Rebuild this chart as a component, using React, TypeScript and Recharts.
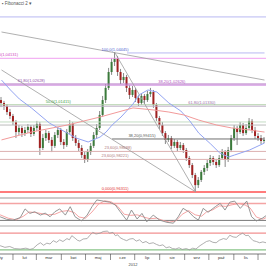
import React from 'react';
import { ComposedChart, Bar, Line, XAxis, YAxis, ReferenceLine, ReferenceDot } from 'recharts';

const FONT = '"Liberation Sans", Arial, sans-serif';

// ---------- candles (one per ~3.7 days) ----------
const candleOpen = [
  1.0169, 1.0152, 1.0134, 1.0099, 1.0076, 1.0041, 0.9982, 1.0006, 0.9976, 0.9994,
  1.0012, 0.9971, 1.0006, 1.0029, 0.9889, 0.9947, 0.9976, 0.9936, 0.9901, 0.9965,
  0.9994, 0.9924, 0.9906, 0.9982, 1.0029, 0.9947, 0.9918, 0.9889, 0.9848, 0.9819,
  0.9865, 0.9901, 0.9965, 1.0006, 1.0082, 1.0169, 1.0240, 1.0333, 1.0392, 1.0415,
  1.0333, 1.0286, 1.0304, 1.0240, 1.0199, 1.0228, 1.0181, 1.0152, 1.0193, 1.0169,
  1.0204, 1.0216, 1.0140, 1.0064, 1.0023, 0.9976, 0.9936, 0.9947, 0.9901, 0.9924,
  0.9889, 0.9906, 0.9877, 0.9830, 0.9789, 0.9731, 0.9672, 0.9702, 0.9749, 0.9772,
  0.9801, 0.9830, 0.9807, 0.9789, 0.9830, 0.9865, 0.9819, 0.9877, 0.9947, 1.0006,
  0.9982, 1.0023, 0.9976, 1.0006, 1.0047, 0.9994, 0.9959, 0.9947, 0.9930,
];
const candleHigh = [
  1.0187, 1.0164, 1.0146, 1.0117, 1.0088, 1.0052, 1.0023, 1.0018, 1.0012, 1.0029,
  1.0023, 1.0023, 1.0047, 1.0041, 0.9971, 0.9994, 0.9988, 0.9953, 0.9982, 1.0012,
  1.0006, 0.9941, 1.0000, 1.0052, 1.0041, 0.9965, 0.9936, 0.9906, 0.9865, 0.9883,
  0.9918, 0.9982, 1.0029, 1.0105, 1.0193, 1.0263, 1.0357, 1.0415, 1.0450, 1.0427,
  1.0351, 1.0327, 1.0316, 1.0257, 1.0251, 1.0240, 1.0199, 1.0210, 1.0204, 1.0222,
  1.0240, 1.0228, 1.0152, 1.0076, 1.0041, 0.9988, 0.9965, 0.9959, 0.9941, 0.9936,
  0.9924, 0.9918, 0.9889, 0.9842, 0.9801, 0.9743, 0.9719, 0.9760, 0.9789, 0.9819,
  0.9848, 0.9842, 0.9825, 0.9848, 0.9883, 0.9877, 0.9895, 0.9965, 1.0023, 1.0018,
  1.0041, 1.0035, 1.0029, 1.0064, 1.0058, 1.0012, 0.9976, 0.9965, 0.9953,
];
const candleLow = [
  1.0128, 1.0111, 1.0082, 1.0058, 1.0023, 0.9947, 0.9965, 0.9953, 0.9959, 0.9976,
  0.9953, 0.9959, 0.9988, 0.9848, 0.9877, 0.9930, 0.9918, 0.9865, 0.9889, 0.9947,
  0.9906, 0.9883, 0.9895, 0.9971, 0.9930, 0.9901, 0.9871, 0.9830, 0.9801, 0.9807,
  0.9848, 0.9889, 0.9947, 0.9994, 1.0070, 1.0152, 1.0228, 1.0316, 1.0368, 1.0310,
  1.0263, 1.0269, 1.0216, 1.0175, 1.0187, 1.0158, 1.0134, 1.0140, 1.0146, 1.0158,
  1.0187, 1.0123, 1.0047, 1.0000, 0.9959, 0.9912, 0.9924, 0.9883, 0.9889, 0.9871,
  0.9877, 0.9860, 0.9813, 0.9772, 0.9713, 0.9637, 0.9655, 0.9690, 0.9731, 0.9754,
  0.9784, 0.9789, 0.9772, 0.9778, 0.9819, 0.9778, 0.9807, 0.9865, 0.9930, 0.9906,
  0.9971, 0.9959, 0.9965, 0.9994, 0.9976, 0.9941, 0.9930, 0.9912, 0.9918,
];
const candleClose = [
  1.0152, 1.0134, 1.0099, 1.0076, 1.0041, 0.9982, 1.0006, 0.9976, 0.9994, 1.0012,
  0.9971, 1.0006, 1.0029, 0.9889, 0.9947, 0.9976, 0.9936, 0.9901, 0.9965, 0.9994,
  0.9924, 0.9906, 0.9982, 1.0029, 0.9947, 0.9918, 0.9889, 0.9848, 0.9819, 0.9865,
  0.9901, 0.9965, 1.0006, 1.0082, 1.0169, 1.0240, 1.0333, 1.0392, 1.0415, 1.0333,
  1.0286, 1.0304, 1.0240, 1.0199, 1.0228, 1.0181, 1.0152, 1.0193, 1.0169, 1.0204,
  1.0216, 1.0140, 1.0064, 1.0023, 0.9976, 0.9936, 0.9947, 0.9901, 0.9924, 0.9889,
  0.9906, 0.9877, 0.9830, 0.9789, 0.9731, 0.9672, 0.9702, 0.9749, 0.9772, 0.9801,
  0.9830, 0.9807, 0.9789, 0.9830, 0.9865, 0.9819, 0.9877, 0.9947, 1.0006, 0.9982,
  1.0023, 0.9976, 1.0006, 1.0047, 0.9994, 0.9959, 0.9947, 0.9930, 0.9936,
];

// moving averages: [candle index, price]
const blueMA = [
  [0, 1.0286], [3, 1.0228], [6, 1.0175], [10, 1.0123], [16, 1.0035], [22, 0.9976],
  [25, 0.9947], [29, 0.9924], [33, 0.9953], [35, 0.9982], [37, 1.0023], [40, 1.0070],
  [44, 1.0146], [46, 1.0199], [49, 1.0228], [52, 1.0216], [56, 1.0152], [60, 1.0105],
  [63, 1.0047], [66, 0.9976], [70, 0.9912], [73, 0.9860], [76, 0.9836], [78, 0.9848],
  [83, 0.9877], [88, 0.9918],
];
const redMA = [
  [0, 0.9936], [10, 0.9982], [22, 1.0023], [33, 1.0070], [44, 1.0123], [51, 1.0111],
  [56, 1.0099], [61, 1.0082], [66, 1.0052], [72, 1.0023], [77, 1.0006], [83, 0.9994],
  [88, 0.9982],
];

// Fibonacci levels
const levelTop = 1.0655;
const levelPeak = 1.04445;
const levelUpper = 1.04131;
const level6180a = 1.02628;
const level3820a = 1.0256;
const level50 = 1.01415;
const level6180b = 1.0133;
const levelG1 = 1.0041;
const levelG2 = 1.0023;
const level3820b = 0.99415;
const level2360a = 0.98688;
const level2360b = 0.98221;
const levelZero = 0.96311;

// fib labels: [candle index, price, text]
const fibLabels: [number, number, string][] = [
  [38, 1.0462, '100,0(1,04445)'],
  [1, 1.0432, '100,0(1,04131)'],
  [10, 1.0281, '61,80(1,02628)'],
  [57, 1.0275, '38,20(1,02626)'],
  [19, 1.0158, '50,0(1,01415)'],
  [67, 1.0152, '61,80(1,01330)'],
  [47, 0.9959, '38,20(0,99415)'],
  [39, 0.9889, '23,60(0,98688)'],
  [38, 0.9842, '23,60(0,98221)'],
  [38, 0.9649, '0,000(0,96311)'],
];
const fibLabelColors = ['#5060d0', '#d040c0', '#9050a8', '#b050c0', '#40a040', '#9a70a8', '#555555', '#b07878', '#b07878', '#e03030'];

// trend lines: endpoints [candle index, price]
const trend1 = [[0, 1.0567], [88, 1.0286]];
const trend2 = [[0, 1.0345], [65, 0.9632]];
const trend3 = [[38, 1.04445], [65, 0.9632]];

// ---------- indicators (x = day of 2012) ----------
const DAY_START = 15.9;
const DAY_END = 345.9;

const stochK = [
  [16, 33], [24, 24], [32, 21], [41, 30], [47, 61], [53, 45], [59, 51], [66, 39], [72, 46], [78, 33],
  [84, 51], [90, 61], [97, 39], [103, 69], [109, 33], [117, 18], [124, 39], [130, 69], [136, 93], [144, 89],
  [152, 85], [159, 75], [165, 51], [173, 21], [179, 57], [186, 25], [192, 45], [198, 15], [206, 39], [214, 21],
  [223, 13], [231, 10], [237, 33], [243, 63], [250, 51], [256, 33], [262, 21], [268, 63], [274, 49], [283, 69],
  [289, 81], [295, 57], [301, 85], [307, 89], [314, 63], [322, 89], [328, 33], [334, 18], [341, 27], [346, 37],
];
const stochD = [
  [16, 40], [26, 28], [36, 22], [45, 35], [52, 50], [60, 48], [68, 44], [76, 40], [84, 42], [92, 52],
  [100, 55], [108, 48], [114, 32], [122, 28], [130, 50], [138, 78], [146, 90], [154, 86], [162, 70], [170, 42],
  [178, 38], [186, 40], [194, 32], [202, 26], [210, 28], [218, 20], [226, 14], [234, 18], [242, 42], [250, 55],
  [258, 40], [266, 35], [272, 50], [280, 58], [288, 72], [296, 70], [304, 76], [312, 80], [320, 75], [326, 65],
  [334, 32], [342, 24], [346, 30],
];
const rsi = [
  [16, 40], [22, 36], [28, 38], [34, 33], [41, 32], [48, 34], [53, 31], [57, 33], [62, 42], [66, 47],
  [70, 41], [74, 46], [78, 44], [82, 52], [86, 48], [90, 54], [94, 50], [99, 57], [102, 54], [105, 64],
  [109, 58], [112, 53], [115, 51], [119, 56], [124, 57], [127, 64], [131, 72], [135, 68], [140, 70], [144, 74],
  [149, 75], [152, 70], [156, 72], [159, 64], [162, 66], [165, 59], [169, 55], [173, 52], [177, 56], [181, 57],
  [185, 51], [189, 54], [193, 47], [197, 50], [201, 45], [206, 47], [210, 43], [214, 40], [218, 42], [222, 35],
  [226, 37], [230, 33], [234, 32], [238, 35], [242, 31], [247, 33], [251, 30], [255, 34], [259, 32], [264, 40],
  [268, 45], [272, 50], [276, 52], [280, 48], [284, 47], [288, 53], [293, 57], [297, 55], [301, 65], [305, 61],
  [309, 60], [313, 66], [317, 70], [321, 64], [324, 65], [327, 58], [330, 52], [334, 50], [338, 47], [342, 49],
  [346, 47],
];

const monthStarts = [32, 61, 92, 122, 153, 183, 214, 245, 275, 306, 336];
const monthMids = [16, 46.5, 76.5, 107, 137.5, 168, 198.5, 229.5, 260, 290.5, 321];
const monthLabels = ['sty', 'lut', 'mar', 'kwi', 'maj', 'cze', 'lip', 'sie', 'wrz', 'paź', 'lis'];

// ---------- tables ----------
const rows: any[] = candleOpen.map((o, i) => ({
  i,
  o,
  h: candleHigh[i],
  l: candleLow[i],
  c: candleClose[i],
}));
blueMA.forEach(([i, v]) => { rows[i].blue = v; });
redMA.forEach(([i, v]) => { rows[i].red = v; });

function mergeByDay(series: Record<string, number[][]>) {
  const m = new Map<number, any>();
  Object.entries(series).forEach(([key, pts]) => {
    pts.forEach(([d, v]) => {
      if (!m.has(d)) m.set(d, { d });
      m.get(d)[key] = v;
    });
  });
  return Array.from(m.values()).sort((a, b) => a.d - b.d);
}
const stochRows = mergeByDay({ sk: stochK, sd: stochD });
const rsiRows = mergeByDay({ r: rsi });

// ---------- shapes ----------
const Candle = (props: any) => {
  const { x, y, width, height, payload } = props;
  if (x == null || y == null || !payload) return null;
  const top = Math.min(y, y + height);
  const hh = Math.abs(height);
  const { o, h, l, c } = payload;
  const range = h - l || 1e-9;
  const cx = x + width / 2;
  const yO = top + ((h - o) / range) * hh;
  const yC = top + ((h - c) / range) * hh;
  const up = c >= o;
  const bt = Math.min(yO, yC);
  const bh = Math.max(Math.abs(yC - yO), 1);
  return (
    <g>
      <line x1={cx} x2={cx} y1={top} y2={top + hh} stroke="#6a6a6a" strokeWidth={0.8} />
      <rect x={cx - 1} y={bt} width={2} height={bh} fill={up ? '#3b7a3b' : '#a02020'} />
    </g>
  );
};

const MonthTick = (p: any) => {
  const v = p.payload?.value;
  if (monthStarts.indexOf(v) >= 0) {
    return <line x1={p.x} x2={p.x} y1={p.y} y2={p.y + 6} stroke="#444" strokeWidth={0.6} />;
  }
  const idx = monthMids.indexOf(v);
  if (idx < 0) return null;
  return (
    <text x={p.x} y={p.y + 5} textAnchor="middle" fontSize={4.2} fill="#333" fontFamily={FONT}>
      {monthLabels[idx]}
    </text>
  );
};

export default function App() {
  return (
    <div style={{ position: 'absolute', left: 0, top: 0, width: 266, height: 266, background: '#fff', overflow: 'hidden', fontFamily: FONT }}>
      <div style={{ position: 'absolute', left: 0, top: 0 }}>
        <ComposedChart width={266} height={195} data={rows} margin={{ top: 0, right: 0, bottom: 0, left: 0 }} barCategoryGap={0}>
          <XAxis dataKey="i" type="category" hide />
          <YAxis hide type="number" domain={[0.9614, 1.0754]} allowDataOverflow />
          <ReferenceLine y={levelTop} stroke="#b8b8f2" strokeWidth={1} />
          <ReferenceLine segment={[{ x: 42, y: levelPeak }, { x: 88, y: levelPeak }]} stroke="#b8b8f2" strokeWidth={1} />
          <ReferenceLine y={levelUpper} stroke="#f0a0f0" strokeWidth={1} />
          <ReferenceLine y={level6180a} stroke="#b070c0" strokeWidth={1} />
          <ReferenceLine y={level3820a} stroke="#d090e0" strokeWidth={1} />
          <ReferenceLine y={level50} stroke="#b0d0a8" strokeWidth={1} />
          <ReferenceLine y={level6180b} stroke="#c0b0c8" strokeWidth={1} />
          <ReferenceLine y={levelG1} stroke="#c4dcc4" strokeWidth={1} />
          <ReferenceLine y={levelG2} stroke="#bcbcbc" strokeWidth={1} />
          <ReferenceLine segment={[{ x: 37, y: level3820b }, { x: 88, y: level3820b }]} stroke="#707070" strokeWidth={1} />
          <ReferenceLine y={level2360a} stroke="#dcb0b0" strokeWidth={1} />
          <ReferenceLine y={level2360b} stroke="#dcb0b0" strokeWidth={1} />
          <ReferenceLine y={levelZero} stroke="#ff5050" strokeWidth={1.5} />
          <ReferenceLine segment={[{ x: trend1[0][0], y: trend1[0][1] }, { x: trend1[1][0], y: trend1[1][1] }]} stroke="#9c9c9c" strokeWidth={0.8} />
          <ReferenceLine segment={[{ x: trend2[0][0], y: trend2[0][1] }, { x: trend2[1][0], y: trend2[1][1] }]} stroke="#9c9c9c" strokeWidth={0.8} />
          <ReferenceLine segment={[{ x: trend3[0][0], y: trend3[0][1] }, { x: trend3[1][0], y: trend3[1][1] }]} stroke="#9c9c9c" strokeWidth={0.8} />
          <Bar dataKey={(d: any) => [d.l, d.h]} shape={(p: any) => <Candle {...p} />} activeBar={false} barSize={2} isAnimationActive={false} />
          <Line dataKey="blue" stroke="#93a4f2" strokeWidth={1} dot={false} activeDot={false} connectNulls isAnimationActive={false} />
          <Line dataKey="red" stroke="#f29a9a" strokeWidth={1} dot={false} activeDot={false} connectNulls isAnimationActive={false} />
          {fibLabels.map(([i, p, t], k) => (
            <ReferenceDot
              key={t + k}
              x={i}
              y={p}
              r={0}
              fill="none"
              stroke="none"
              label={{ value: t, position: 'center', fill: fibLabelColors[k], fontSize: 4, fontFamily: FONT }}
            />
          ))}
        </ComposedChart>
      </div>

      <div style={{ position: 'absolute', left: 0, top: 196 }}>
        <ComposedChart width={266} height={32} data={stochRows} margin={{ top: 2, right: 0, bottom: 2, left: 0 }}>
          <XAxis dataKey="d" type="number" domain={[DAY_START, DAY_END]} hide allowDataOverflow />
          <YAxis hide type="number" domain={[0, 100]} />
          <ReferenceLine y={100} stroke="#9a9a9a" strokeWidth={1.2} />
          <ReferenceLine y={80} stroke="#f4a4a4" strokeWidth={1.5} />
          <ReferenceLine y={20} stroke="#777" strokeWidth={1} />
          <ReferenceLine y={0} stroke="#aaa" strokeWidth={1} />
          <Line dataKey="sd" stroke="#f49a9a" strokeWidth={0.9} dot={false} activeDot={false} connectNulls isAnimationActive={false} />
          <Line dataKey="sk" stroke="#8a8a8a" strokeWidth={0.9} dot={false} activeDot={false} connectNulls isAnimationActive={false} />
        </ComposedChart>
      </div>

      <div style={{ position: 'absolute', left: 0, top: 227 }}>
        <ComposedChart width={266} height={39} data={rsiRows} margin={{ top: 2, right: 0, bottom: 0, left: 0 }}>
          <XAxis
            dataKey="d"
            type="number"
            domain={[DAY_START, DAY_END]}
            allowDataOverflow
            ticks={[...monthStarts, ...monthMids]}
            interval={0}
            tickLine={false}
            tickSize={0}
            tickMargin={0}
            height={12}
            axisLine={{ stroke: '#444', strokeWidth: 0.7 }}
            tick={(p: any) => <MonthTick {...p} />}
            label={{ value: '2012', position: 'insideBottom', offset: 0, fontSize: 4, fill: '#444', fontFamily: FONT }}
          />
          <YAxis hide type="number" domain={[20, 80]} />
          <ReferenceLine y={70} stroke="#f29090" strokeWidth={1.2} />
          <ReferenceLine y={30} stroke="#88c488" strokeWidth={1.2} />
          <Line dataKey="r" stroke="#9a9a9a" strokeWidth={0.8} dot={false} activeDot={false} connectNulls isAnimationActive={false} />
        </ComposedChart>
      </div>

      <div style={{ position: 'absolute', left: 2, top: 1, fontSize: 4.5, color: '#555', whiteSpace: 'nowrap', lineHeight: '6px' }}>
        ▪ Fibonacci 2 ▾
      </div>
    </div>
  );
}
